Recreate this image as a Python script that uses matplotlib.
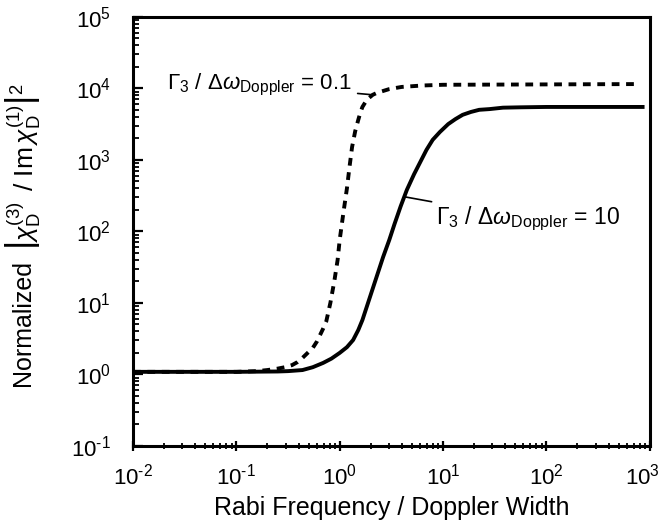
import numpy as np
import matplotlib
matplotlib.use("Agg")
import matplotlib.pyplot as plt
import matplotlib.transforms as mtransforms
from matplotlib.ticker import LogLocator

plt.rcParams['font.family'] = ['Liberation Sans', 'DejaVu Sans']
plt.rcParams['mathtext.fontset'] = 'custom'
plt.rcParams['mathtext.rm'] = 'Liberation Sans'
plt.rcParams['mathtext.it'] = 'Liberation Sans:italic'
plt.rcParams['mathtext.sf'] = 'Liberation Sans'

# curves (log10 of x, log10 of y)
solid_logx = [-2.0, -1.0, -0.6, -0.5, -0.36, -0.26, -0.16, -0.08, 0.0, 0.07, 0.13, 0.18,
              0.22, 0.27, 0.32, 0.37, 0.42, 0.48, 0.53, 0.59, 0.65, 0.72, 0.78, 0.84,
              0.90, 0.97, 1.05, 1.12, 1.19, 1.27, 1.35, 1.45, 1.58, 1.75, 2.0, 2.95]
solid_logy = [0.035, 0.035, 0.04, 0.045, 0.06, 0.10, 0.16, 0.22, 0.30, 0.38, 0.48, 0.62,
              0.76, 0.98, 1.20, 1.42, 1.64, 1.88, 2.10, 2.35, 2.58, 2.80, 2.97, 3.14,
              3.28, 3.39, 3.50, 3.57, 3.63, 3.67, 3.70, 3.71, 3.73, 3.735, 3.74, 3.74]

dash_logx = [-2.0, -1.0, -0.8, -0.7, -0.6, -0.53, -0.46, -0.41, -0.36, -0.31, -0.26, -0.22,
             -0.19, -0.16, -0.13, -0.09, -0.05, -0.02, 0.0, 0.035, 0.07, 0.095, 0.12, 0.15,
             0.18, 0.20, 0.22, 0.25, 0.27, 0.32, 0.35, 0.39, 0.48, 0.6, 0.8, 1.0, 2.87]
dash_logy = [0.035, 0.035, 0.045, 0.06, 0.08, 0.10, 0.13, 0.17, 0.23, 0.30, 0.37, 0.46,
             0.55, 0.64, 0.74, 1.0, 1.32, 1.6, 1.88, 2.25, 2.60, 2.9, 3.18, 3.4,
             3.56, 3.66, 3.74, 3.81, 3.85, 3.91, 3.93, 3.95, 3.99, 4.02, 4.04, 4.05, 4.06]

xticks = [1e-2, 1e-1, 1e0, 1e1, 1e2, 1e3]
xticklabels = [r'$10^{\text{-}2}$', r'$10^{\text{-}1}$', '$10^{0}$', '$10^{1}$', '$10^{2}$', '$10^{3}$']
yticks = [1e-1, 1e0, 1e1, 1e2, 1e3, 1e4, 1e5]
yticklabels = [r'$10^{\text{-}1}$', '$10^{0}$', '$10^{1}$', '$10^{2}$', '$10^{3}$', '$10^{4}$', '$10^{5}$']

fig = plt.figure(figsize=(6.65, 5.27), dpi=100)
ax = fig.add_axes([0.2, 0.154, 0.777, 0.814])

ax.plot(10 ** np.array(solid_logx), 10 ** np.array(solid_logy), color='black', lw=2.8,
        solid_capstyle='butt')
ax.plot(10 ** np.array(dash_logx), 10 ** np.array(dash_logy), color='black', lw=2.8,
        linestyle=(0, (2.0, 1.7)), dash_capstyle='butt')

ax.set_xscale('log')
ax.set_yscale('log')
ax.set_xlim(1e-2, 1e3)
ax.set_ylim(1e-1, 1e5)

ax.set_xticks(xticks)
ax.set_xticklabels(xticklabels)
ax.set_yticks(yticks)
ax.set_yticklabels(yticklabels)
ax.xaxis.set_minor_locator(LogLocator(base=10, subs=np.arange(2, 10), numticks=20))
ax.yaxis.set_minor_locator(LogLocator(base=10, subs=np.arange(2, 10), numticks=20))
ax.xaxis.set_minor_formatter(plt.NullFormatter())
ax.yaxis.set_minor_formatter(plt.NullFormatter())

ax.tick_params(axis='both', which='major', labelsize=16, width=1.6, length=7)
ax.tick_params(axis='x', which='both', direction='inout', pad=9)
ax.tick_params(axis='y', which='both', direction='in', pad=16)
ax.tick_params(axis='both', which='minor', width=1.3, length=4)
for s in ax.spines.values():
    s.set_linewidth(2.2)

# last x label sits at the figure edge, nudge it left a bit
last = ax.get_xticklabels()[-1]
last.set_transform(last.get_transform() + mtransforms.ScaledTranslation(-7 / 100, 0, fig.dpi_scale_trans))

ax.set_xlabel('Rabi Frequency / Doppler Width', fontsize=18, labelpad=5)

# y label in two pieces: plain word and larger math part
fig.text(23 / 665, 1 - 386 / 527, 'Normalized', rotation=90, fontsize=18,
         ha='center', va='bottom')
fig.text(23 / 665, 1 - 250 / 527,
         r'$\left|\chi_{\rm D}^{(3)}\ \,/\ {\rm Im}\,\chi_{\rm D}^{(1)}\right|^2$',
         rotation=90, fontsize=19, ha='center', va='bottom')

ax.annotate(r'$\Gamma_3$ / $\Delta\omega_{\rm Doppler}$ = 0.1',
            xy=(10 ** 0.32, 10 ** 3.91), xytext=(10 ** 0.12, 10 ** 4.05),
            ha='right', va='center', fontsize=16,
            arrowprops=dict(arrowstyle='-', color='black', lw=1.2, shrinkA=2, shrinkB=0))
ax.annotate(r'$\Gamma_3$ / $\Delta\omega_{\rm Doppler}$ = 10',
            xy=(10 ** 0.64, 10 ** 2.48), xytext=(10 ** 0.93, 10 ** 2.17),
            ha='left', va='center', fontsize=16.5,
            arrowprops=dict(arrowstyle='-', color='black', lw=1.2, shrinkA=2, shrinkB=0))

fig.savefig('out.png', dpi=100)
